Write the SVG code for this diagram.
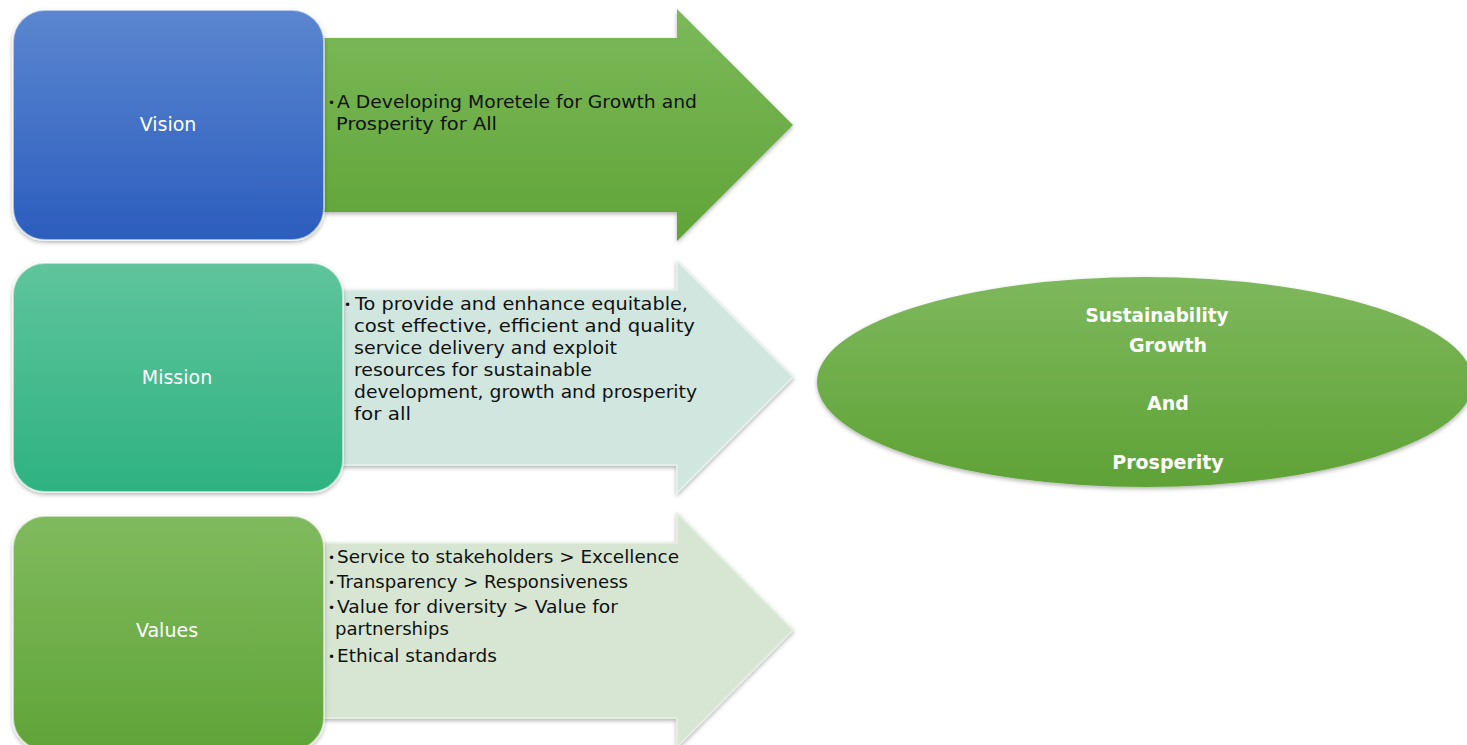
<svg xmlns="http://www.w3.org/2000/svg" width="1467" height="745" viewBox="0 0 1467 745">
  <defs>
    <linearGradient id="gBlue" x1="0" y1="0" x2="0" y2="1">
      <stop offset="0" stop-color="#5B86D0"/>
      <stop offset="1" stop-color="#2C5DBE"/>
    </linearGradient>
    <linearGradient id="gTeal" x1="0" y1="0" x2="0" y2="1">
      <stop offset="0" stop-color="#5FC49C"/>
      <stop offset="1" stop-color="#2EB282"/>
    </linearGradient>
    <linearGradient id="gGreen" x1="0" y1="0" x2="0" y2="1">
      <stop offset="0" stop-color="#80BA5E"/>
      <stop offset="1" stop-color="#60A438"/>
    </linearGradient>
    <linearGradient id="gArrowGreen" x1="0" y1="0" x2="0" y2="1">
      <stop offset="0" stop-color="#7CB95A"/>
      <stop offset="1" stop-color="#60A437"/>
    </linearGradient>
    <linearGradient id="gEllipse" x1="0" y1="0" x2="0" y2="1">
      <stop offset="0" stop-color="#7EB85D"/>
      <stop offset="1" stop-color="#5FA236"/>
    </linearGradient>
    <filter id="shadow" x="-5%" y="-5%" width="110%" height="115%">
      <feDropShadow dx="0" dy="2" stdDeviation="2" flood-color="#000" flood-opacity="0.3"/>
    </filter>
  </defs>
  <style>
    .box { stroke: #ffffff; stroke-opacity: 0.55; stroke-width: 2; filter: url(#shadow); }
    .arrow { filter: url(#shadow); }
    .label { font-family: "DejaVu Sans", "Liberation Sans", sans-serif; font-size: 19px; fill: #ffffff; text-anchor: middle; }
    .body { font-family: "DejaVu Sans", "Liberation Sans", sans-serif; font-size: 18px; fill: #111111; }
    .bullet { font-family: "DejaVu Sans", sans-serif; font-size: 12px; fill: #111111; }
    .goal { font-family: "DejaVu Sans", "Liberation Sans", sans-serif; font-size: 19px; font-weight: bold; fill: #ffffff; text-anchor: middle; }
  </style>

  <rect width="1467" height="745" fill="#ffffff"/>

  <!-- connectors: block arrows carrying each statement -->
  <g id="connectors">
    <path class="arrow" d="M323,38 H677 V9 L793,125 L677,241 V212 H323 Z" fill="url(#gArrowGreen)"/>
    <path class="arrow" d="M340,290 H677 V261 L793,377 L677,493 V465 H340 Z" fill="#D0E6DF" stroke="#E4F2EE" stroke-width="1.5"/>
    <path class="arrow" d="M322,543 H677 V513 L793,630 L677,747 V718 H322 Z" fill="#D7E6D2" stroke="#E6F0E2" stroke-width="1.5"/>
  </g>

  <!-- Vision -->
  <g id="vision">
    <rect class="box" x="13" y="10" width="311" height="230" rx="32" fill="url(#gBlue)"/>
    <text class="label" x="168" y="131">Vision</text>
    <text class="bullet" x="328" y="107">•</text>
    <text class="body" x="337" y="108" textLength="360" lengthAdjust="spacingAndGlyphs">A Developing Moretele for Growth and</text>
    <text class="body" x="336" y="130" textLength="161" lengthAdjust="spacingAndGlyphs">Prosperity for All</text>
  </g>

  <!-- Mission -->
  <g id="mission">
    <rect class="box" x="13" y="263" width="330" height="229" rx="32" fill="url(#gTeal)"/>
    <text class="label" x="177" y="384">Mission</text>
    <text class="bullet" x="344" y="309">•</text>
    <text class="body" x="355" y="310" textLength="333" lengthAdjust="spacingAndGlyphs">To provide and enhance equitable,</text>
    <text class="body" x="354" y="332" textLength="341" lengthAdjust="spacingAndGlyphs">cost effective, efficient and quality</text>
    <text class="body" x="354" y="354" textLength="263" lengthAdjust="spacingAndGlyphs">service delivery and exploit</text>
    <text class="body" x="354" y="376" textLength="238" lengthAdjust="spacingAndGlyphs">resources for sustainable</text>
    <text class="body" x="354" y="398" textLength="343" lengthAdjust="spacingAndGlyphs">development, growth and prosperity</text>
    <text class="body" x="354" y="420" textLength="57" lengthAdjust="spacingAndGlyphs">for all</text>
  </g>

  <!-- Values -->
  <g id="values">
    <rect class="box" x="13" y="516" width="311" height="234" rx="32" fill="url(#gGreen)"/>
    <text class="label" x="167" y="637">Values</text>
    <text class="bullet" x="328" y="562">•</text>
    <text class="body" x="337" y="563" textLength="342" lengthAdjust="spacingAndGlyphs">Service to stakeholders &gt; Excellence</text>
    <text class="bullet" x="328" y="587">•</text>
    <text class="body" x="337" y="588" textLength="291" lengthAdjust="spacingAndGlyphs">Transparency &gt; Responsiveness</text>
    <text class="bullet" x="328" y="612">•</text>
    <text class="body" x="337" y="613" textLength="281" lengthAdjust="spacingAndGlyphs">Value for diversity &gt; Value for</text>
    <text class="body" x="335" y="635" textLength="114" lengthAdjust="spacingAndGlyphs">partnerships</text>
    <text class="bullet" x="328" y="661">•</text>
    <text class="body" x="337" y="662" textLength="160" lengthAdjust="spacingAndGlyphs">Ethical standards</text>
  </g>

  <!-- Goal -->
  <g id="goal">
    <ellipse cx="1145" cy="382" rx="328" ry="105" fill="url(#gEllipse)" filter="url(#shadow)"/>
    <text class="goal" x="1157" y="322" textLength="143" lengthAdjust="spacingAndGlyphs">Sustainability</text>
    <text class="goal" x="1168" y="352">Growth</text>
    <text class="goal" x="1168" y="410">And</text>
    <text class="goal" x="1168" y="469">Prosperity</text>
  </g>
</svg>
